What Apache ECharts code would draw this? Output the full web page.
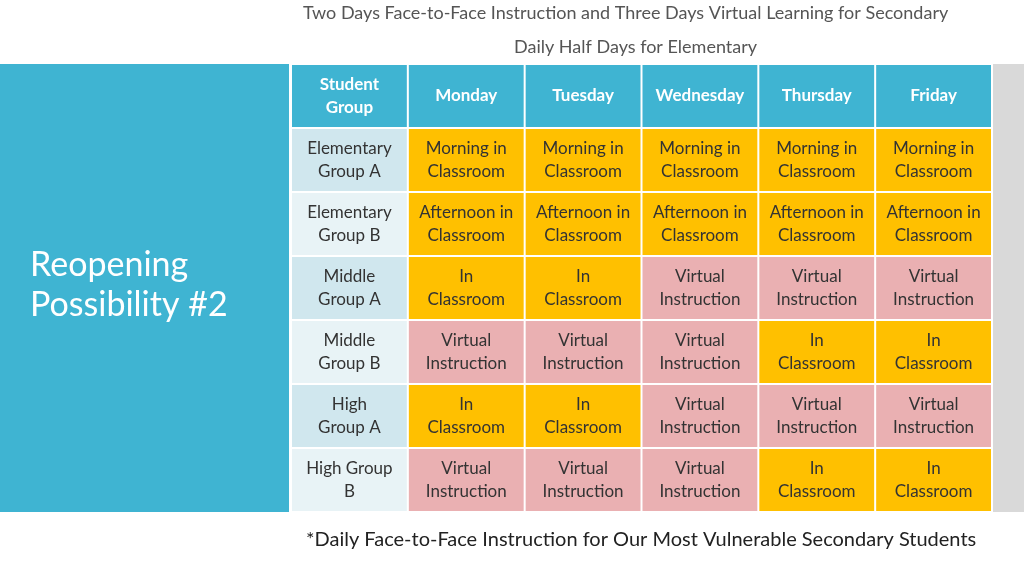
<!DOCTYPE html>
<html lang="en">
<head>
  <meta charset="UTF-8">
  <script src="https://cdn.jsdelivr.net/npm/echarts@6/dist/echarts.min.js"></script>
  <title>Reopening Possibility #2</title>
  <style>
    * {margin: 0; padding: 0;}
    html, body { width: 100%; height: 100%; overflow: hidden; background: #fff; }
    #chart { width: 1024px; height: 576px; }
  </style>
</head>
<body>
  <div id="chart"></div>
</body>
<script>
var days = ['Monday', 'Tuesday', 'Wednesday', 'Thursday', 'Friday']
var groups = ['Elementary\nGroup A', 'Elementary\nGroup B', 'Middle\nGroup A', 'Middle\nGroup B', 'High\nGroup A', 'High Group\nB']
var schedule = [
  ['Morning in\nClassroom', 'Morning in\nClassroom', 'Morning in\nClassroom', 'Morning in\nClassroom', 'Morning in\nClassroom'],
  ['Afternoon in\nClassroom', 'Afternoon in\nClassroom', 'Afternoon in\nClassroom', 'Afternoon in\nClassroom', 'Afternoon in\nClassroom'],
  ['In\nClassroom', 'In\nClassroom', 'Virtual\nInstruction', 'Virtual\nInstruction', 'Virtual\nInstruction'],
  ['Virtual\nInstruction', 'Virtual\nInstruction', 'Virtual\nInstruction', 'In\nClassroom', 'In\nClassroom'],
  ['In\nClassroom', 'In\nClassroom', 'Virtual\nInstruction', 'Virtual\nInstruction', 'Virtual\nInstruction'],
  ['Virtual\nInstruction', 'Virtual\nInstruction', 'Virtual\nInstruction', 'In\nClassroom', 'In\nClassroom']
]
var headerCorner = 'Student\nGroup'

var cols = ['g'].concat(days)
var rows = ['h'].concat(groups.map((g, i) => 'r' + i))

// build cells: [col, row, text, kind]
var cells = []
cells.push([0, 0, headerCorner, 'head'])
days.forEach((d, j) => cells.push([j + 1, 0, d, 'head']))
groups.forEach((g, i) => {
  cells.push([0, i + 1, g, i % 2 === 0 ? 'grpA' : 'grpB'])
  schedule[i].forEach((s, j) => {
    cells.push([j + 1, i + 1, s, s.indexOf('Virtual') === 0 ? 'virt' : 'class'])
  })
})

var fills = { head: '#3fb4d2', grpA: '#d0e7ee', grpB: '#e8f3f6', virt: '#eab0b2', class: '#ffc000' }

var chart = echarts.init(document.getElementById('chart'))
chart.setOption({
  animation: false,
  grid: { left: 291, width: 701, top: 64, height: 448 },
  xAxis: { type: 'category', data: cols, show: false },
  yAxis: { type: 'category', data: rows, inverse: true, show: false },
  graphic: [
    { type: 'rect', shape: { x: 0, y: 64, width: 289, height: 448 }, style: { fill: '#3fb4d2' } },
    { type: 'rect', shape: { x: 993, y: 64, width: 31, height: 448 }, style: { fill: '#d9d9d9' } },
    { type: 'text', left: 30, top: 245, style: { text: 'Reopening\nPossibility #2', fill: '#fff', font: '34px Lato', lineHeight: 40 } },
    { type: 'text', left: 'center', top: 4, style: { text: 'Two Days Face-to-Face Instruction and Three Days Virtual Learning for Secondary', fill: '#555', font: '18px Lato', x: 0 }, left: 303 },
    { type: 'text', left: 514, top: 38, style: { text: 'Daily Half Days for Elementary', fill: '#555', font: '18px Lato' } },
    { type: 'text', left: 306, top: 530, style: { text: '*Daily Face-to-Face Instruction for Our Most Vulnerable Secondary Students', fill: '#222', font: '20px Lato' } }
  ],
  series: [{
    type: 'custom',
    data: cells,
    renderItem: function (params, api) {
      var c = api.coord([api.value(0), api.value(1)])
      var s = api.size([1, 1])
      var kind = cells[params.dataIndex][3]
      var txt = cells[params.dataIndex][2]
      return {
        type: 'group',
        children: [
          { type: 'rect', shape: { x: c[0] - s[0] / 2 + 1, y: c[1] - s[1] / 2 + 1, width: s[0] - 2, height: s[1] - 2 },
            style: { fill: fills[kind] } },
          { type: 'text', x: c[0], y: c[1],
            style: { text: txt, align: 'center', verticalAlign: 'middle', lineHeight: 23,
              fill: kind === 'head' ? '#fff' : '#333',
              font: (kind === 'head' ? 'bold 17px' : '17px') + ' Lato' } }
        ]
      }
    }
  }]
})
</script>
</html>
